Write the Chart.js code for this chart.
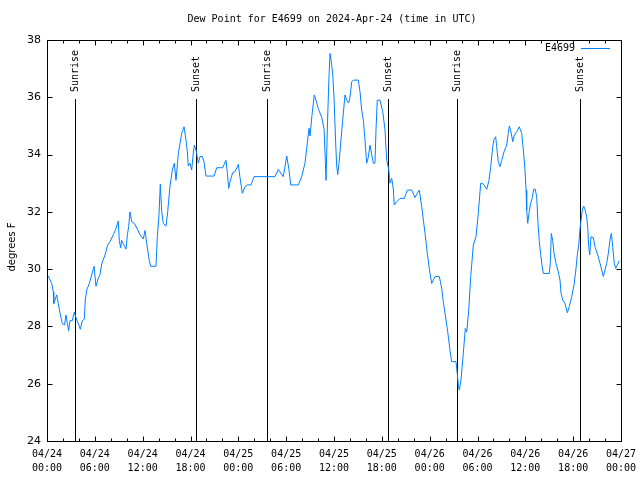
<!DOCTYPE html>
<html>
<head>
  <title>Dew Point for E4699</title>
  <script src="https://cdn.jsdelivr.net/npm/chart.js"></script>
  <style>
    body { margin: 0; background: #fff; }
  </style>
</head>
<body>
  <canvas id="chart" width="640" height="480"></canvas>

  <script>
    // hours since 2024-04-24 00:00 UTC
    const hours = [
      0.16, 0.59, 0.79, 0.85, 1.22, 1.42, 1.63, 1.92, 2.2, 2.38, 2.55, 2.72, 2.89, 3.17, 3.42, 3.64, 3.93, 4.18, 4.43, 4.68,
      4.8, 4.98, 5.31, 5.61, 5.9, 6.15, 6.44, 6.65, 6.86, 7.28, 7.61, 7.9, 8.32, 8.66, 8.94, 9.07, 9.24, 9.37, 9.66, 9.91,
      10.07, 10.25, 10.41, 10.62, 10.95, 11.33, 11.67, 12.08, 12.29, 12.51, 12.83, 13.01, 13.67, 13.84, 14.05, 14.21, 14.39, 14.59, 14.93, 15.14,
      15.43, 15.72, 15.97, 16.18, 16.34, 16.47, 16.9, 17.19, 17.44, 17.6, 17.72, 17.94, 18.15, 18.35, 18.48, 18.69, 18.98, 19.19, 19.48, 19.69,
      19.94, 20.95, 21.29, 22.04, 22.45, 22.62, 22.79, 22.96, 23.29, 23.58, 24.0, 24.21, 24.5, 24.84, 25.13, 25.59, 25.97, 28.6, 29.01, 29.64,
      30.07, 30.36, 30.57, 31.52, 31.95, 32.36, 32.65, 32.87, 32.99, 33.24, 33.53, 33.74, 34.03, 34.46, 34.75, 34.91, 35.0, 35.16, 35.34, 35.5,
      35.66, 35.84, 36.0, 36.21, 36.34, 36.47, 36.63, 36.84, 37.09, 37.38, 37.59, 37.84, 38.0, 38.22, 38.42, 39.05, 39.26, 39.47, 39.68, 39.89,
      40.1, 40.3, 40.52, 40.73, 40.93, 41.14, 41.27, 41.43, 41.77, 42.11, 42.4, 42.61, 42.86, 43.02, 43.24, 43.44, 43.56, 43.86, 44.28, 44.82,
      45.2, 45.75, 46.16, 46.45, 46.7, 47.0, 47.42, 47.7, 48.04, 48.26, 48.67, 49.21, 49.51, 49.71, 49.96, 50.26, 50.55, 50.76, 51.3, 51.46,
      51.59, 51.72, 51.93, 52.22, 52.47, 52.65, 52.9, 53.15, 53.48, 53.81, 54.1, 54.4, 54.57, 54.82, 55.16, 55.44, 55.66, 55.91, 56.07, 56.28,
      56.41, 56.61, 56.82, 57.04, 57.33, 57.66, 57.86, 57.99, 58.2, 58.42, 58.62, 58.92, 59.24, 59.55, 59.75, 59.96, 60.09, 60.17, 60.3, 60.46,
      60.67, 60.88, 61.05, 61.25, 61.43, 61.59, 61.75, 61.93, 62.09, 62.26, 63.01, 63.13, 63.26, 63.43, 63.6, 63.85, 64.14, 64.35, 64.48, 64.69,
      64.98, 65.27, 65.52, 65.82, 66.11, 66.36, 66.52, 66.7, 66.86, 66.99, 67.15, 67.33, 67.49, 67.7, 67.83, 67.95, 68.08, 68.24, 68.53, 68.74,
      68.95, 69.15, 69.37, 69.58, 69.78, 69.99, 70.2, 70.41, 70.62, 70.79, 70.96, 71.16, 71.34, 71.54, 71.79
    ];
    const dewPoint = [
      29.76, 29.5, 29.2, 28.8, 29.1, 28.8, 28.47, 28.1, 28.05, 28.4, 28.1, 27.85, 28.2, 28.2, 28.5, 28.3, 28.1, 27.9, 28.2, 28.25,
      28.92, 29.27, 29.5, 29.8, 30.1, 29.4, 29.7, 29.8, 30.18, 30.5, 30.84, 30.96, 31.2, 31.42, 31.68, 31.0, 30.74, 31.0, 30.84, 30.7,
      31.16, 31.5, 32.0, 31.66, 31.6, 31.4, 31.2, 31.05, 31.35, 30.9, 30.3, 30.1, 30.1, 31.13, 31.9, 32.97, 32.0, 31.6, 31.5, 32.0,
      32.9, 33.46, 33.7, 33.1, 33.6, 34.04, 34.74, 34.97, 34.5, 34.1, 33.6, 33.7, 33.46, 34.05, 34.33, 34.16, 33.7, 33.93, 33.93, 33.75,
      33.25, 33.25, 33.54, 33.54, 33.8, 33.37, 32.82, 33.05, 33.37, 33.4, 33.66, 33.2, 32.65, 32.88, 32.94, 32.94, 33.23, 33.23, 33.48, 33.23,
      33.95, 33.46, 32.94, 32.94, 33.23, 33.7, 34.4, 34.92, 34.65, 35.38, 36.08, 35.9, 35.6, 35.3, 34.9, 33.8, 33.1, 34.86, 36.49, 37.53,
      37.25, 36.8, 36.0, 34.4, 33.6, 33.3, 33.7, 34.4, 35.2, 36.08, 35.9, 35.8, 36.0, 36.54, 36.6, 36.6, 36.2, 35.56, 35.2, 34.5,
      33.7, 33.9, 34.33, 34.0, 33.7, 33.7, 34.86, 35.9, 35.9, 35.5, 34.86, 33.8, 33.5, 33.0, 33.17, 32.8, 32.24, 32.35, 32.47, 32.47,
      32.76, 32.76, 32.5, 32.65, 32.76, 32.18, 31.25, 30.55, 29.85, 29.5, 29.74, 29.74, 29.33, 28.86, 28.4, 27.82, 27.17, 26.77, 26.77, 26.36,
      25.95, 25.78, 26.13, 27.06, 27.93, 27.8, 28.57, 29.74, 30.84, 31.13, 31.95, 33.0, 33.0, 32.94, 32.79, 33.1, 33.58, 34.27, 34.53, 34.62,
      34.27, 33.75, 33.58, 33.8, 34.1, 34.33, 34.74, 35.0, 34.8, 34.45, 34.68, 34.8, 34.97, 34.74, 34.16, 33.46, 32.76, 32.06, 31.6, 31.95,
      32.3, 32.5, 32.79, 32.79, 32.5, 31.6, 30.96, 30.5, 30.14, 29.85, 29.85, 30.2, 31.25, 31.0, 30.55, 30.2, 29.9, 29.62, 29.16, 28.92,
      28.8, 28.48, 28.7, 29.04, 29.45, 30.03, 30.5, 30.84, 31.42, 31.7, 32.06, 32.2, 32.08, 31.8, 31.45, 30.78, 30.5, 31.13, 31.1, 30.78,
      30.6, 30.44, 30.2, 29.97, 29.74, 29.97, 30.2, 30.55, 31.02, 31.25, 30.78, 30.2, 30.03, 30.14, 30.3
    ];

    const sunHours = [3.5, 18.7, 27.55, 42.8, 51.45, 66.9];
    const sunLabels = ['Sunrise', 'Sunset', 'Sunrise', 'Sunset', 'Sunrise', 'Sunset'];

    const xTickHours = [0, 6, 12, 18, 24, 30, 36, 42, 48, 54, 60, 66, 72];
    const xTickDates = ['04/24', '04/24', '04/24', '04/24', '04/25', '04/25', '04/25', '04/25', '04/26', '04/26', '04/26', '04/26', '04/27'];
    const xTickTimes = ['00:00', '06:00', '12:00', '18:00', '00:00', '06:00', '12:00', '18:00', '00:00', '06:00', '12:00', '18:00', '00:00'];
    const yTicks = [24, 26, 28, 30, 32, 34, 36, 38];

    const MONO = '"DejaVu Sans Mono", monospace';
    const SANS = '"DejaVu Sans", sans-serif';

    // frame, inward ticks, sunrise/sunset markers, title, legend
    const gnuplotLook = {
      id: 'gnuplotLook',
      beforeDatasetsDraw(chart) {
        const ctx = chart.ctx;
        const x = chart.scales.x;
        const a = chart.chartArea;
        ctx.save();
        ctx.strokeStyle = '#000';
        ctx.lineWidth = 1;
        ctx.fillStyle = '#000';
        ctx.font = '10px ' + MONO;
        sunHours.forEach((h, i) => {
          const px = Math.round(x.getPixelForValue(h)) + 0.5;
          ctx.beginPath();
          ctx.moveTo(px, a.top + 59);
          ctx.lineTo(px, a.bottom);
          ctx.stroke();
          ctx.save();
          ctx.translate(px, a.top + 52);
          ctx.rotate(-Math.PI / 2);
          ctx.textAlign = 'left';
          ctx.textBaseline = 'middle';
          ctx.fillText(sunLabels[i], 0, 0);
          ctx.restore();
        });
        ctx.restore();
      },
      afterDraw(chart) {
        const ctx = chart.ctx;
        const x = chart.scales.x;
        const y = chart.scales.y;
        const a = chart.chartArea;
        ctx.save();
        ctx.strokeStyle = '#000';
        ctx.lineWidth = 1;
        const L = Math.round(a.left) + 0.5, R = Math.round(a.right) + 0.5;
        const T = Math.round(a.top) + 0.5, B = Math.round(a.bottom) + 0.5;
        ctx.strokeRect(L, T, R - L, B - T);

        ctx.beginPath();
        for (let h = 0; h <= 72; h += 2) {
          const px = Math.round(x.getPixelForValue(h)) + 0.5;
          const len = h % 6 === 0 ? 5 : 3;
          ctx.moveTo(px, B); ctx.lineTo(px, B - len);
          ctx.moveTo(px, T); ctx.lineTo(px, T + len);
        }
        yTicks.forEach(v => {
          const py = Math.round(y.getPixelForValue(v)) + 0.5;
          ctx.moveTo(L, py); ctx.lineTo(L + 5, py);
          ctx.moveTo(R, py); ctx.lineTo(R - 5, py);
        });
        ctx.stroke();

        ctx.fillStyle = '#000';
        ctx.font = '10px ' + MONO;
        ctx.textAlign = 'center';
        ctx.textBaseline = 'middle';
        ctx.fillText('Dew Point for E4699 on 2024-Apr-24 (time in UTC)', 332, 19);

        // legend
        ctx.textAlign = 'right';
        ctx.fillText('E4699', 575, 48);
        ctx.strokeStyle = '#0080ff';
        ctx.beginPath();
        ctx.moveTo(581, 48.5);
        ctx.lineTo(610, 48.5);
        ctx.stroke();

        // y axis title
        ctx.fillStyle = '#000';
        ctx.font = '10px ' + SANS;
        ctx.translate(12, 247);
        ctx.rotate(-Math.PI / 2);
        ctx.textAlign = 'center';
        ctx.fillText('degrees F', 0, 0);
        ctx.restore();
      }
    };

    new Chart(document.getElementById('chart'), {
      type: 'line',
      data: {
        datasets: [{
          label: 'E4699',
          data: hours.map((h, i) => ({ x: h, y: dewPoint[i] })),
          borderColor: '#0080ff',
          borderWidth: 1,
          pointRadius: 0,
          tension: 0,
          fill: false
        }]
      },
      options: {
        responsive: false,
        animation: false,
        devicePixelRatio: 1,
        layout: { padding: { top: 40, right: 19, left: 0, bottom: 0 } },
        plugins: {
          legend: { display: false },
          title: { display: false },
          tooltip: { enabled: false }
        },
        scales: {
          x: {
            type: 'linear',
            min: 0,
            max: 72,
            grid: { display: false, drawTicks: false },
            border: { display: false },
            afterBuildTicks: s => { s.ticks = xTickHours.map(v => ({ value: v })); },
            afterFit: s => { s.height = 39; s.paddingLeft = 0; s.paddingRight = 0; },
            ticks: {
              autoSkip: false,
              maxRotation: 0,
              padding: 6,
              color: '#000',
              font: { family: MONO, size: 10, lineHeight: 1.4 },
              callback: (v, i) => [xTickDates[i], xTickTimes[i]]
            }
          },
          y: {
            min: 24,
            max: 38,
            grid: { display: false, drawTicks: false },
            border: { display: false },
            afterBuildTicks: s => { s.ticks = yTicks.map(v => ({ value: v })); },
            afterFit: s => { s.width = 47; s.paddingTop = 0; s.paddingBottom = 0; },
            ticks: {
              padding: 6,
              color: '#000',
              font: { family: SANS, size: 11 }
            }
          }
        }
      },
      plugins: [gnuplotLook]
    });
  </script>
</body>
</html>
